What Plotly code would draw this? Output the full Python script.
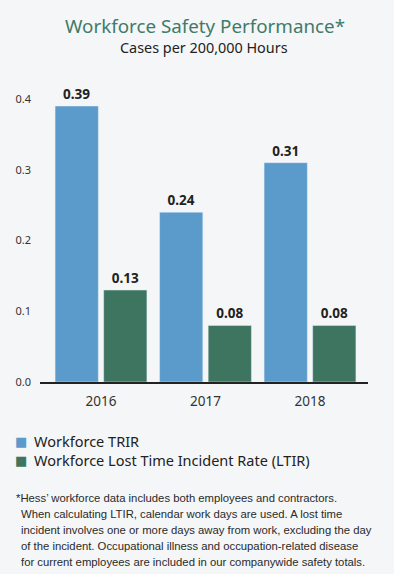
import plotly.graph_objects as go

years = ["2016", "2017", "2018"]
trir = [0.39, 0.24, 0.31]
ltir = [0.13, 0.08, 0.08]
series_names = ["Workforce TRIR", "Workforce Lost Time Incident Rate (LTIR)"]
y_ticks = [0.0, 0.1, 0.2, 0.3, 0.4]
title = "Workforce Safety Performance*"
subtitle = "Cases per 200,000 Hours"
footnote_lines = [
    "*Hess\u2019 workforce data includes both employees and contractors.",
    "When calculating LTIR, calendar work days are used. A lost time",
    "incident involves one or more days away from work, excluding the day",
    "of the incident. Occupational illness and occupation-related disease",
    "for current employees are included in our companywide safety totals.",
]

BLUE = "#5b9bcc"
GREEN = "#3d7561"
BG = "#f5f6f7"
W, H = 394, 574
K = 574 / 567  # empirical vertical compensation
FONT = "Noto Sans, Lato, sans-serif"
colors = [BLUE, GREEN]

fig = go.Figure()
for name, vals, col in zip(series_names, [trir, ltir], colors):
    fig.add_trace(go.Bar(x=years, y=vals, name=name, marker_color=col,
                         text=[f"<b>{v:.2f}</b>" for v in vals], textposition="outside",
                         textfont=dict(size=13.5, color="#222", family=FONT),
                         cliponaxis=False, showlegend=False))


def px_x(p):
    return p / W


def px_y(p):
    return max(0.0, min(1.0, 1 - (p * K) / H))


y0_px = 382
per_unit = 707.5
ytop = 0.44
top_px = y0_px - ytop * per_unit

c0, step = 101, 104.5
xr = [(40 - c0) / step, (368 - c0) / step]

annotations = [
    dict(text=title, x=205 / W, y=px_y(25.5), xref="paper", yref="paper",
         showarrow=False, font=dict(size=18.8, color="#3f7b69", family=FONT),
         xanchor="center", yanchor="middle", borderpad=0),
    dict(text=subtitle, x=204 / W, y=px_y(47.5), xref="paper", yref="paper",
         showarrow=False, font=dict(size=14.4, color="#222", family=FONT),
         xanchor="center", yanchor="middle", borderpad=0),
]
for name, col, yy in zip(series_names, colors, [441, 460]):
    annotations.append(dict(text="\u25A0", x=px_x(21), y=px_y(yy), xref="paper", yref="paper",
                            showarrow=False, xanchor="center", yanchor="middle",
                            font=dict(size=13, color=col, family="DejaVu Sans")))
    annotations.append(dict(text=name, x=px_x(32), y=px_y(yy), xref="paper", yref="paper",
                            showarrow=False, xanchor="left", yanchor="middle",
                            font=dict(size=14.5, color="#222", family=FONT)))

line_y = [498, 514, 530, 546, 562]
for i, (ln, yy) in enumerate(zip(footnote_lines, line_y)):
    annotations.append(dict(text=ln, x=px_x(15 if i == 0 else 20), y=px_y(yy),
                            xref="paper", yref="paper", showarrow=False,
                            xanchor="left", yanchor="middle", borderpad=0,
                            font=dict(size=11.3, color="#2a2a2a",
                                      family="Liberation Sans Narrow, Arial Narrow, Liberation Sans, sans-serif")))

fig.update_layout(
    width=W, height=H, autosize=False,
    paper_bgcolor=BG, plot_bgcolor=BG,
    margin=dict(l=0, r=0, t=0, b=0),
    barmode="group", bargap=0.07, bargroupgap=0.11,
    font=dict(family=FONT, color="#333"),
    xaxis=dict(domain=[40 / W, 368 / W], range=xr, showline=True, linecolor="#222",
               linewidth=1.5, ticks="", tickfont=dict(size=13.5, color="#333"),
               ticklabelstandoff=6, showgrid=False, fixedrange=True),
    yaxis=dict(domain=[px_y(y0_px), px_y(top_px)], range=[0, ytop], tickvals=y_ticks,
               ticktext=[f"{v:.1f}" for v in y_ticks], showgrid=False, zeroline=False,
               showline=False, tickfont=dict(size=11, color="#333"), ticklabelstandoff=8,
               fixedrange=True),
    annotations=annotations,
    showlegend=False,
)
fig.write_html("out.html",
               config={"responsive": False, "displayModeBar": False},
               post_script="document.body.style.margin='0';document.body.style.overflow='hidden';")
